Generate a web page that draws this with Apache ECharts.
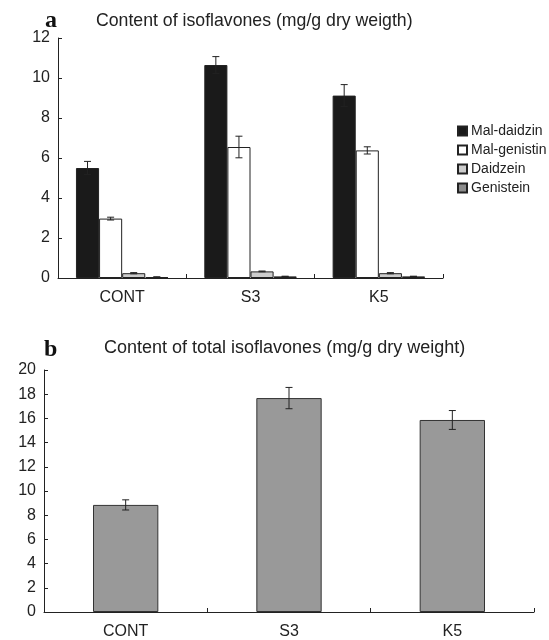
<!DOCTYPE html>
<html><head><meta charset="utf-8">
<script src="https://cdn.jsdelivr.net/npm/echarts@6/dist/echarts.min.js"></script>
<style>html,body{margin:0;padding:0;background:#fff}#c{width:549px;height:640px}</style>
</head><body><div id="c"></div>
<script>
const categories = ['CONT', 'S3', 'K5'];
const seriesNamesA = ['Mal-daidzin', 'Mal-genistin', 'Daidzein', 'Genistein'];
const valuesA = [
  [5.5, 10.65, 9.12],
  [2.97, 6.55, 6.38],
  [0.24, 0.33, 0.24],
  [0.05, 0.08, 0.08]
];
const errorsA = [
  [0.33, 0.42, 0.55],
  [0.07, 0.54, 0.18],
  [0.03, 0.02, 0.03],
  [0.01, 0.01, 0.01]
];
const totalValues = [8.85, 17.68, 15.87];
const totalErrors = [0.42, 0.88, 0.78];
const yTicksA = [0, 2, 4, 6, 8, 10, 12];
const yTicksB = [0, 2, 4, 6, 8, 10, 12, 14, 16, 18, 20];

const FONT = 'Liberation Sans, Arial, sans-serif';
const colorsA = ['#1a1a1a', '#ffffff', '#cccccc', '#8c8c8c'];
const barFracA = 0.18;

function errRender(idx, n, frac) {
  return function (params, api) {
    const c = api.value(0), v = api.value(1), e = api.value(2);
    const band = api.size([1, 0])[0];
    const dx = (idx - (n - 1) / 2) * band * frac;
    const hi = api.coord([c, v + e]);
    const lo = api.coord([c, v - e]);
    const x = hi[0] + dx;
    const cap = 3.5;
    const st = { stroke: '#222', lineWidth: 1 };
    return {
      type: 'group',
      children: [
        { type: 'line', shape: { x1: x, y1: hi[1], x2: x, y2: lo[1] }, style: st },
        { type: 'line', shape: { x1: x - cap, y1: hi[1], x2: x + cap, y2: hi[1] }, style: st },
        { type: 'line', shape: { x1: x - cap, y1: lo[1], x2: x + cap, y2: lo[1] }, style: st }
      ]
    };
  };
}

const series = [];
seriesNamesA.forEach((name, i) => {
  series.push({
    name: name, type: 'bar', xAxisIndex: 0, yAxisIndex: 0,
    data: valuesA[i], barWidth: (barFracA * 100) + '%', barGap: '0%',
    itemStyle: { color: colorsA[i], borderColor: '#222', borderWidth: 1 },
    emphasis: { disabled: true }, animation: false
  });
});
seriesNamesA.forEach((name, i) => {
  series.push({
    type: 'custom', xAxisIndex: 0, yAxisIndex: 0,
    data: categories.map((_, k) => [k, valuesA[i][k], errorsA[i][k]]),
    renderItem: errRender(i, 4, barFracA), z: 5, animation: false
  });
});
series.push({
  name: 'Total', type: 'bar', xAxisIndex: 1, yAxisIndex: 1,
  data: totalValues, barWidth: '40%',
  itemStyle: { color: '#999999', borderColor: '#333', borderWidth: 1 },
  emphasis: { disabled: true }, animation: false
});
series.push({
  type: 'custom', xAxisIndex: 1, yAxisIndex: 1,
  data: categories.map((_, k) => [k, totalValues[k], totalErrors[k]]),
  renderItem: errRender(0, 1, 0.4), z: 5, animation: false
});

function yAxis(gridIndex, ticks) {
  return {
    type: 'value', gridIndex: gridIndex, min: ticks[0], max: ticks[ticks.length - 1],
    interval: ticks[1] - ticks[0],
    axisLine: { show: true, lineStyle: { color: '#222', width: 1 } },
    axisTick: { show: true, inside: true, length: 4, lineStyle: { color: '#222' } },
    axisLabel: { color: '#222', fontSize: 16, fontFamily: FONT, margin: 8 },
    splitLine: { show: false }
  };
}
function xAxis(gridIndex) {
  return {
    type: 'category', gridIndex: gridIndex, data: categories,
    axisLine: { show: true, lineStyle: { color: '#222', width: 1 } },
    axisTick: { show: true, inside: true, length: 4, alignWithLabel: false, lineStyle: { color: '#222' } },
    axisLabel: { color: '#222', fontSize: 16, fontFamily: FONT, margin: 12 },
    splitLine: { show: false }
  };
}

const chart = echarts.init(document.getElementById('c'), null, { renderer: 'canvas' });
chart.setOption({
  backgroundColor: '#fff',
  animation: false,
  title: [
    { text: 'a', left: 40, top: 4, textStyle: { fontFamily: 'Liberation Serif, Times New Roman, serif', fontWeight: 'bold', fontSize: 24, color: '#111' } },
    { text: 'Content of isoflavones (mg/g dry weigth)', left: 91, top: 7, textStyle: { fontFamily: FONT, fontWeight: 'normal', fontSize: 17.7, color: '#222' } },
    { text: 'b', left: 39, top: 333, textStyle: { fontFamily: 'Liberation Serif, Times New Roman, serif', fontWeight: 'bold', fontSize: 24, color: '#111' } },
    { text: 'Content of total isoflavones (mg/g dry weight)', left: 99, top: 334, textStyle: { fontFamily: FONT, fontWeight: 'normal', fontSize: 18, color: '#222' } }
  ],
  legend: {
    data: seriesNamesA, orient: 'vertical', left: 452, top: 119,
    itemWidth: 9, itemHeight: 9, itemGap: 5, icon: 'rect',
    textStyle: { fontFamily: FONT, fontSize: 14, color: '#222', padding: [0, 0, 0, -1] }
  },
  grid: [
    { left: 58, top: 38, right: 106, bottom: 362 },
    { left: 44, top: 370, right: 15, bottom: 28 }
  ],
  xAxis: [xAxis(0), xAxis(1)],
  yAxis: [yAxis(0, yTicksA), yAxis(1, yTicksB)],
  series: series
});
</script></body></html>
